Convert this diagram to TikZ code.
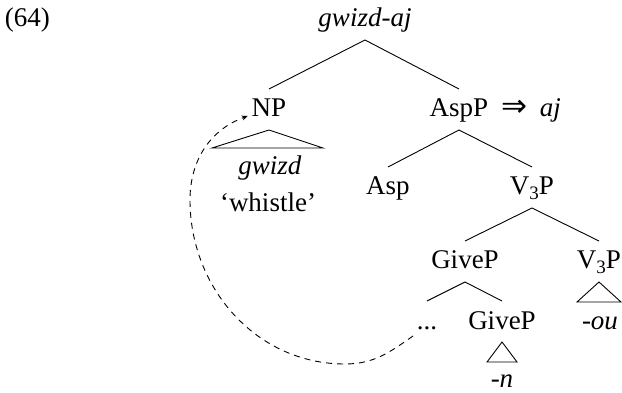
\documentclass[tikz,border=0pt]{standalone}
\usepackage{fontspec}
\setmainfont{Liberation Serif}
\newfontfamily\symfont{DejaVu Sans}
\usetikzlibrary{arrows.meta}
\begin{document}
\begin{tikzpicture}[x=1pt,y=1pt,
  lab/.style={anchor=base,inner sep=0pt,outer sep=0pt,font=\fontsize{27}{32}\selectfont},
  tn/.style={lab,text height=18pt,text depth=3pt,outer ysep=10pt},
  br/.style={line width=0.9pt},
  mv/.style={line width=0.9pt,dash pattern=on 6pt off 5pt,-{Stealth[length=6pt,width=5pt]}}]
\useasboundingbox (0,0) rectangle (622,-393);
\node[lab,anchor=base west] (ex) at (5,-27) {(64)};
\node[tn] (root) at (365,-27) {\textit{gwizd-aj}};
\node[tn] (np) at (269,-117) {NP};
\node[tn] (aspp) at (459,-117) {AspP};
\node[lab,anchor=base west] (spell) at (501,-117) {{\symfont\fontsize{31}{32}\selectfont ⇒}\hspace{13pt}\textit{aj}};
\node[tn] (gw) at (270,-175) {\textit{gwizd}};
\node[tn] (wh) at (268,-212) {‘whistle’};
\node[tn] (asp) at (388,-195) {Asp};
\node[tn] (v3) at (532,-195) {V\raisebox{-5pt}{\fontsize{19}{19}\selectfont 3}P};
\node[tn] (give1) at (465,-269) {GiveP};
\node[tn] (v3b) at (599,-269) {V\raisebox{-5pt}{\fontsize{19}{19}\selectfont 3}P};
\node[tn] (dots) at (427,-329) {...};
\node[tn] (give2) at (502,-329) {GiveP};
\node[tn] (n) at (502,-387) {\textit{-n}};
\node[tn] (ou) at (600,-329) {\textit{-ou}};
\draw[br] (root.south) -- (np.north);
\draw[br] (root.south) -- (aspp.north);
\draw[br] (np.south) -- ++(-57,-18) -- ++(111,0) -- cycle;
\draw[br] (aspp.south) -- (asp.north);
\draw[br] (aspp.south) -- (v3.north);
\draw[br] (v3.south) -- (give1.north);
\draw[br] (v3.south) -- (v3b.north);
\draw[br] (give1.south) -- (dots.north);
\draw[br] (give1.south) -- (give2.north);
\draw[br] (give2.south) -- ++(-15,-20) -- ++(30,0) -- cycle;
\draw[br] (v3b.south) -- ++(-22,-20) -- ++(44,0) -- cycle;
\coordinate (t0) at (413,-336);
\coordinate (t1) at (345,-364);
\coordinate (t2) at (190,-200);
\draw[mv] (t0) to[out=-145,in=0] (t1) to[out=180,in=-90] (t2) to[out=90,in=200] ([shift={(-4pt,-6.5pt)}]np.west);
\end{tikzpicture}
\end{document}
